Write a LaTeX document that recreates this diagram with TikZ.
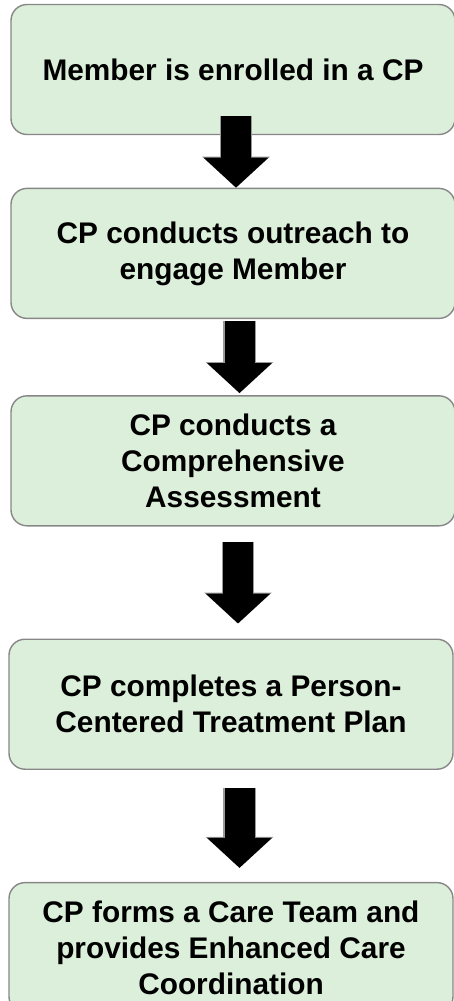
\documentclass[tikz,border=0pt]{standalone}
\usepackage{fontspec}
\setmainfont{Liberation Sans}
\usepackage{tikz}
\usetikzlibrary{arrows.meta, positioning}

\definecolor{boxgreen}{RGB}{220,239,218}
\definecolor{boxline}{RGB}{135,135,135}

\begin{document}
\begin{tikzpicture}[
            node distance = 52pt, % gap between steps
            semithick % line style
        ]

        \tikzstyle{stepbox}=[
            draw = boxline,
            line width = 1.4pt,
            fill = boxgreen,
            rounded corners = 16pt,
            minimum width = 444pt,
            minimum height = 130pt,
            align = center,
            font = \bfseries\fontsize{29.8}{36}\selectfont
        ]
        \tikzstyle{blockarrow}=[
            line width = 30pt,
            -{Triangle[width=63pt,length=30pt]},
            preaction = {draw = gray!80, line width = 32.5pt,
                -{Triangle[width=66pt,length=31pt]}}
        ]

        \useasboundingbox (0,0) rectangle (454pt,-1001pt);

        \node[stepbox] (enrol) at (233pt,-69.5pt) {Member is enrolled in a CP};
        \node[stepbox] (outreach) [below=52.5pt of enrol] {CP conducts outreach to\\engage Member};
        \node[stepbox] (assess) [below=76pt of outreach] {CP conducts a\\Comprehensive\\Assessment};
        \node[stepbox] (plan) [below=112pt of assess, xshift=-2pt] {CP completes a Person-\\Centered Treatment Plan};
        \node[stepbox] (team) [below=112pt of plan] {CP forms a Care Team and\\provides Enhanced Care\\Coordination};

        \draw[blockarrow] ([xshift=3pt,yshift=19.5pt]enrol.south) -- ([xshift=3pt]outreach.north);
        \draw[blockarrow] ([xshift=6.5pt,yshift=-2pt]outreach.south) -- ([xshift=6.5pt,yshift=2pt]assess.north);
        \draw[blockarrow] ([xshift=5pt,yshift=-15pt]assess.south) -- ([xshift=7pt,yshift=15pt]plan.north);
        \draw[blockarrow] ([xshift=8.5pt,yshift=-18pt]plan.south) -- ([xshift=8.5pt,yshift=14pt]team.north);

  \end{tikzpicture}
\end{document}
